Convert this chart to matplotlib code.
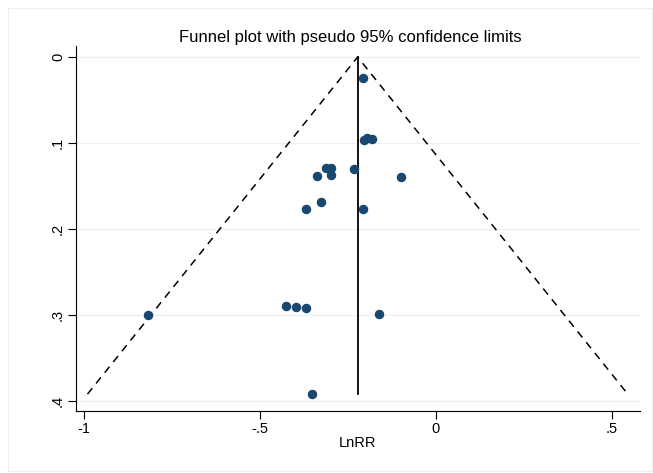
import numpy as np
import matplotlib
matplotlib.use('Agg')
import matplotlib.pyplot as plt

plt.rcParams['font.family'] = ['Liberation Sans', 'DejaVu Sans']

# Study estimates
lnrr = [-0.208, -0.205, -0.194, -0.182,
        -0.311, -0.299, -0.299, -0.339, -0.231, -0.100,
        -0.368, -0.325, -0.208,
        -0.818, -0.427, -0.396, -0.368, -0.160,
        -0.353]
se = [0.024, 0.097, 0.094, 0.095,
      0.129, 0.129, 0.137, 0.138, 0.130, 0.140,
      0.177, 0.169, 0.177,
      0.300, 0.290, 0.291, 0.292, 0.299,
      0.392]
pooled = -0.222

fig = plt.figure(figsize=(6.53, 4.73), dpi=100)
ax = fig.add_axes([76 / 653, 1 - 411 / 473, (640 - 76) / 653, (411 - 46) / 473])

# pseudo 95% limits
se_max = max(se)
ax.plot([pooled - 1.96 * se_max, pooled, pooled + 1.96 * se_max], [se_max, 0, se_max],
        color='black', linestyle=(0, (5, 4)), linewidth=1.1)
ax.plot([pooled, pooled], [0, se_max], color='black', linewidth=1.3)

ax.scatter(lnrr, se, s=34, color='#1a476f', zorder=3)

ax.set_xlim(-1.023, 0.581)
ax.set_ylim(0.4116, -0.0128)
ax.set_xticks([-1, -0.5, 0, 0.5])
ax.set_xticklabels(['-1', '-.5', '0', '.5'])
ax.set_yticks([0, 0.1, 0.2, 0.3, 0.4])
ax.set_yticklabels(['0', '.1', '.2', '.3', '.4'], rotation=90, va='center')
ax.grid(axis='y', color='#eaf2f3', linewidth=1)
ax.set_axisbelow(True)
for s in ['top', 'right']:
    ax.spines[s].set_visible(False)
ax.tick_params(direction='out', length=6, labelsize=10.5, pad=2)
ax.set_xlabel('LnRR', fontsize=10.5, labelpad=0)
ax.set_title('Funnel plot with pseudo 95% confidence limits', fontsize=12,
             x=0.487, pad=3)

# faint outer border of graph region
fig.patches.append(plt.Rectangle((8 / 653, 0.005), 1 - 9 / 653, 1 - 8 / 473 - 0.005,
                                 transform=fig.transFigure, fill=False,
                                 edgecolor='#eeeeee', linewidth=0.8))

fig.savefig('out.png', dpi=100)
